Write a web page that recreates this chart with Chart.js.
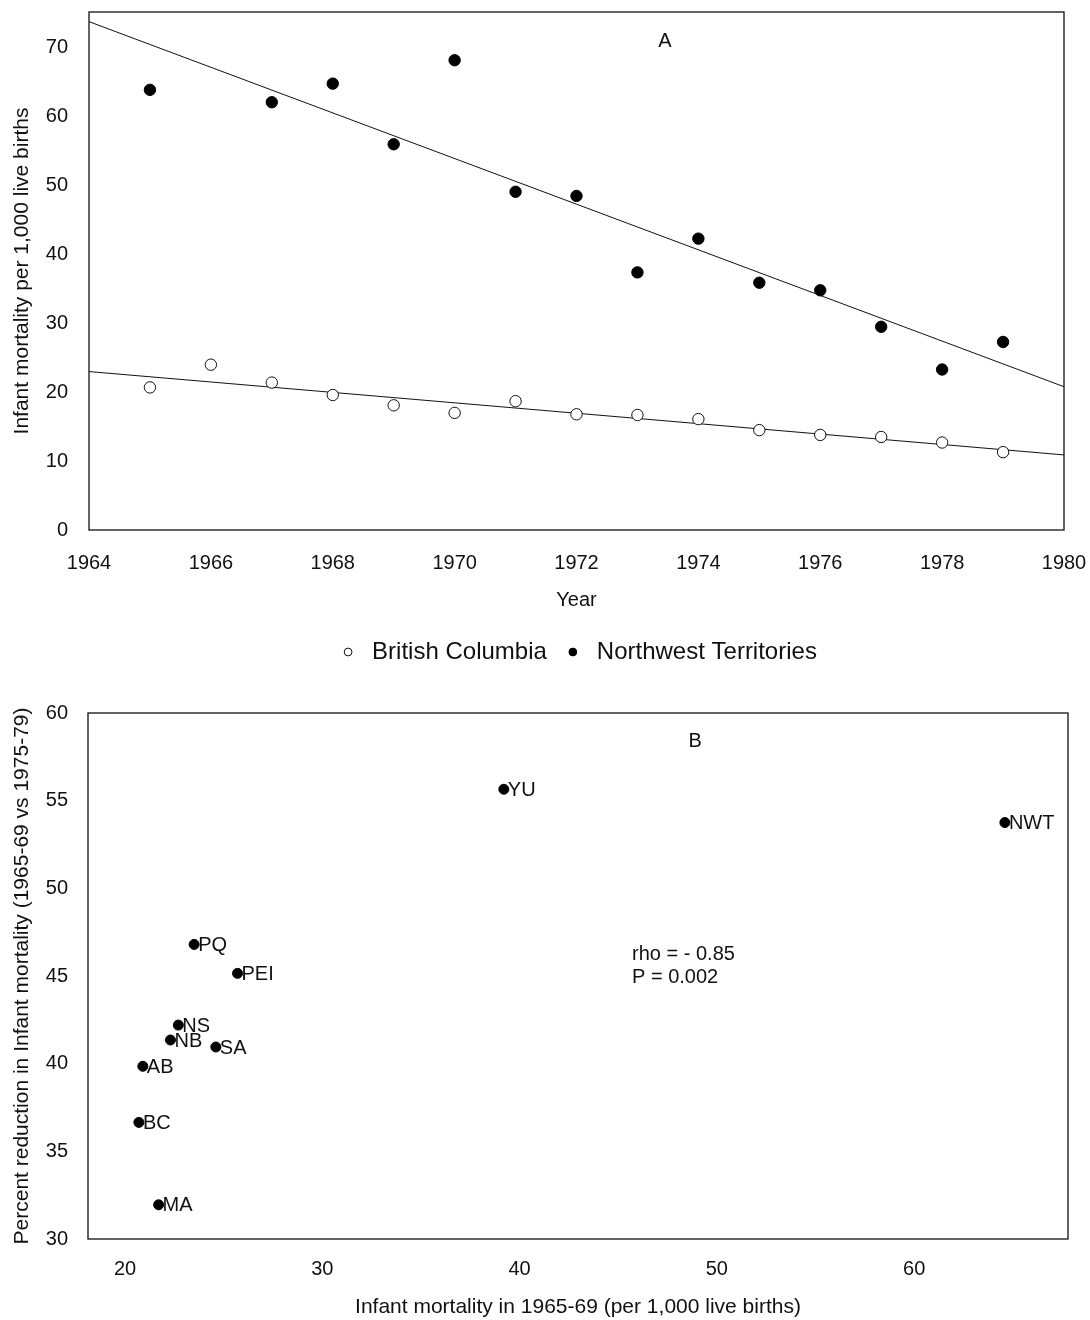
<!DOCTYPE html>
<html>
<head>
<meta charset="utf-8">
<script src="https://cdn.jsdelivr.net/npm/chart.js@4.4.1/dist/chart.umd.min.js"></script>
<style>
  body { margin: 0; background: #fff; }
  #wrapA { position: absolute; left: 0; top: 0; }
  #wrapB { position: absolute; left: 0; top: 690px; }
</style>
</head>
<body>
<div id="wrapA"><canvas id="chartA" width="1090" height="690"></canvas></div>
<div id="wrapB"><canvas id="chartB" width="1090" height="630"></canvas></div>
<script>
// --- panel A: infant mortality by year
const bcYears = [1965, 1966, 1967, 1968, 1969, 1970, 1971, 1972, 1973, 1974, 1975, 1976, 1977, 1978, 1979];
const bcRates = [20.7, 24.0, 21.4, 19.6, 18.1, 17.0, 18.7, 16.8, 16.7, 16.1, 14.5, 13.8, 13.5, 12.7, 11.3];
const nwtYears = [1965, 1967, 1968, 1969, 1970, 1971, 1972, 1973, 1974, 1975, 1976, 1977, 1978, 1979];
const nwtRates = [63.9, 62.1, 64.8, 56.0, 68.2, 49.1, 48.5, 37.4, 42.3, 35.9, 34.8, 29.5, 23.3, 27.3];
// fitted lines read at the panel edges
const trendYears = [1964, 1980];
const bcTrend = [23.0, 10.9];
const nwtTrend = [73.8, 20.8];
const yearTicks = [1964, 1966, 1968, 1970, 1972, 1974, 1976, 1978, 1980];
const rateTicks = [0, 10, 20, 30, 40, 50, 60, 70];

// --- panel B: reduction vs. 1965-69 level, by province
const provinces = ['PQ', 'PEI', 'NS', 'NB', 'SA', 'AB', 'BC', 'MA', 'YU', 'NWT'];
const mortality6569 = [23.5, 25.7, 22.7, 22.3, 24.6, 20.9, 20.7, 21.7, 39.2, 64.6];
const pctReduction = [46.8, 45.15, 42.2, 41.35, 40.95, 39.85, 36.65, 31.95, 55.65, 53.75];
const mortTicks = [20, 30, 40, 50, 60];
const pctTicks = [30, 35, 40, 45, 50, 55, 60];

const FONT = "'Liberation Sans', Arial, Helvetica, sans-serif";
const INK = '#111';
Chart.defaults.font.family = FONT;
Chart.defaults.color = INK;

const toPts = (xs, ys) => xs.map((x, i) => ({ x: x, y: ys[i] }));

// draws the closed frame around the plot area
const framePlugin = {
  id: 'frame',
  afterDraw(chart) {
    const a = chart.chartArea, ctx = chart.ctx;
    ctx.save();
    ctx.strokeStyle = INK;
    ctx.lineWidth = 1.3;
    ctx.strokeRect(a.left, a.top, a.right - a.left, a.bottom - a.top);
    ctx.restore();
  }
};

// free text placed in data coordinates
const notesPlugin = {
  id: 'notes',
  afterDatasetsDraw(chart, args, opts) {
    const ctx = chart.ctx, xs = chart.scales.x, ys = chart.scales.y;
    ctx.save();
    ctx.fillStyle = INK;
    ctx.textBaseline = 'middle';
    (opts.items || []).forEach(n => {
      ctx.font = (n.size || 20) + 'px ' + FONT;
      ctx.textAlign = n.align || 'left';
      ctx.fillText(n.text, xs.getPixelForValue(n.x), ys.getPixelForValue(n.y));
    });
    ctx.restore();
  }
};

const fixTicks = vals => scale => { scale.ticks = vals.map(v => ({ value: v })); };
// fixed axis box sizes, no extra room for overhanging labels
const fitX = h => s => { s.height = h; s.paddingLeft = 0; s.paddingRight = 0; };
const fitY = w => s => { s.width = w; s.paddingTop = 0; s.paddingBottom = 0; };

new Chart(document.getElementById('chartA'), {
  type: 'scatter',
  data: {
    datasets: [
      {
        label: 'British Columbia',
        data: toPts(bcYears, bcRates),
        backgroundColor: '#fff',
        borderColor: INK,
        borderWidth: 1,
        pointRadius: 5.7,
        pointStyle: 'circle'
      },
      {
        label: 'Northwest Territories',
        data: toPts(nwtYears, nwtRates),
        backgroundColor: '#000',
        borderColor: '#000',
        borderWidth: 1,
        pointRadius: 5.7,
        pointStyle: 'circle'
      },
      {
        label: 'bcFit',
        data: toPts(trendYears, bcTrend),
        showLine: true,
        borderColor: INK,
        borderWidth: 1,
        pointRadius: 0
      },
      {
        label: 'nwtFit',
        data: toPts(trendYears, nwtTrend),
        showLine: true,
        borderColor: INK,
        borderWidth: 1,
        pointRadius: 0
      }
    ]
  },
  options: {
    responsive: false,
    animation: false,
    layout: { padding: { top: 12, right: 26, left: 0, bottom: 16 } },
    scales: {
      x: {
        type: 'linear',
        min: 1964,
        max: 1980,
        afterBuildTicks: fixTicks(yearTicks),
        afterFit: fitX(96),
        grid: { display: false },
        border: { display: false },
        ticks: { padding: 13, font: { size: 20 }, callback: v => String(v) },
        title: { display: true, text: 'Year', font: { size: 20 }, padding: { top: 0, bottom: 14 } }
      },
      y: {
        min: 0,
        max: 75.2,
        afterBuildTicks: fixTicks(rateTicks),
        afterFit: fitY(89),
        grid: { display: false },
        border: { display: false },
        ticks: { padding: 13, font: { size: 20 } },
        title: { display: true, text: 'Infant mortality per 1,000 live births', font: { size: 21 }, padding: { top: 10, bottom: 0 } }
      }
    },
    plugins: {
      legend: {
        position: 'bottom',
        fullSize: false,
        labels: {
          usePointStyle: true,
          boxHeight: 5.5,
          padding: 14,
          font: { size: 24 },
          color: INK,
          filter: item => item.datasetIndex < 2
        }
      },
      tooltip: { enabled: false },
      notes: { items: [{ text: 'A', x: 1973.45, y: 70.9, align: 'center', size: 20 }] }
    }
  },
  plugins: [framePlugin, notesPlugin]
});

const pointLabels = {
  id: 'pointLabels',
  afterDatasetsDraw(chart) {
    const ctx = chart.ctx;
    const meta = chart.getDatasetMeta(0);
    ctx.save();
    ctx.fillStyle = INK;
    ctx.font = '20px ' + FONT;
    ctx.textAlign = 'left';
    ctx.textBaseline = 'middle';
    meta.data.forEach((pt, i) => {
      ctx.fillText(provinces[i], pt.x + 4, pt.y + 1);
    });
    ctx.restore();
  }
};

new Chart(document.getElementById('chartB'), {
  type: 'scatter',
  data: {
    datasets: [{
      label: 'Provinces',
      data: toPts(mortality6569, pctReduction),
      backgroundColor: '#000',
      borderColor: '#000',
      pointRadius: 5
    }]
  },
  options: {
    responsive: false,
    animation: false,
    layout: { padding: { top: 23, right: 22, left: 0, bottom: 0 } },
    scales: {
      x: {
        type: 'linear',
        min: 18.12,
        max: 67.8,
        afterBuildTicks: fixTicks(mortTicks),
        afterFit: fitX(81),
        grid: { display: false },
        border: { display: false },
        ticks: { padding: 10, font: { size: 20 } },
        title: { display: true, text: 'Infant mortality in 1965-69 (per 1,000 live births)', font: { size: 21 }, padding: { top: 0, bottom: 0 } }
      },
      y: {
        min: 30,
        max: 60,
        afterBuildTicks: fixTicks(pctTicks),
        afterFit: fitY(88),
        grid: { display: false },
        border: { display: false },
        ticks: { padding: 12, font: { size: 20 } },
        title: { display: true, text: 'Percent reduction in Infant mortality (1965-69 vs 1975-79)', font: { size: 21 }, padding: { top: 10, bottom: 0 } }
      }
    },
    plugins: {
      legend: { display: false },
      tooltip: { enabled: false },
      notes: {
        items: [
          { text: 'B', x: 48.9, y: 58.4, align: 'center', size: 20 },
          { text: 'rho = - 0.85', x: 45.7, y: 46.2, size: 20 },
          { text: 'P = 0.002', x: 45.7, y: 44.9, size: 20 }
        ]
      }
    }
  },
  plugins: [framePlugin, notesPlugin, pointLabels]
});
</script>
</body>
</html>
